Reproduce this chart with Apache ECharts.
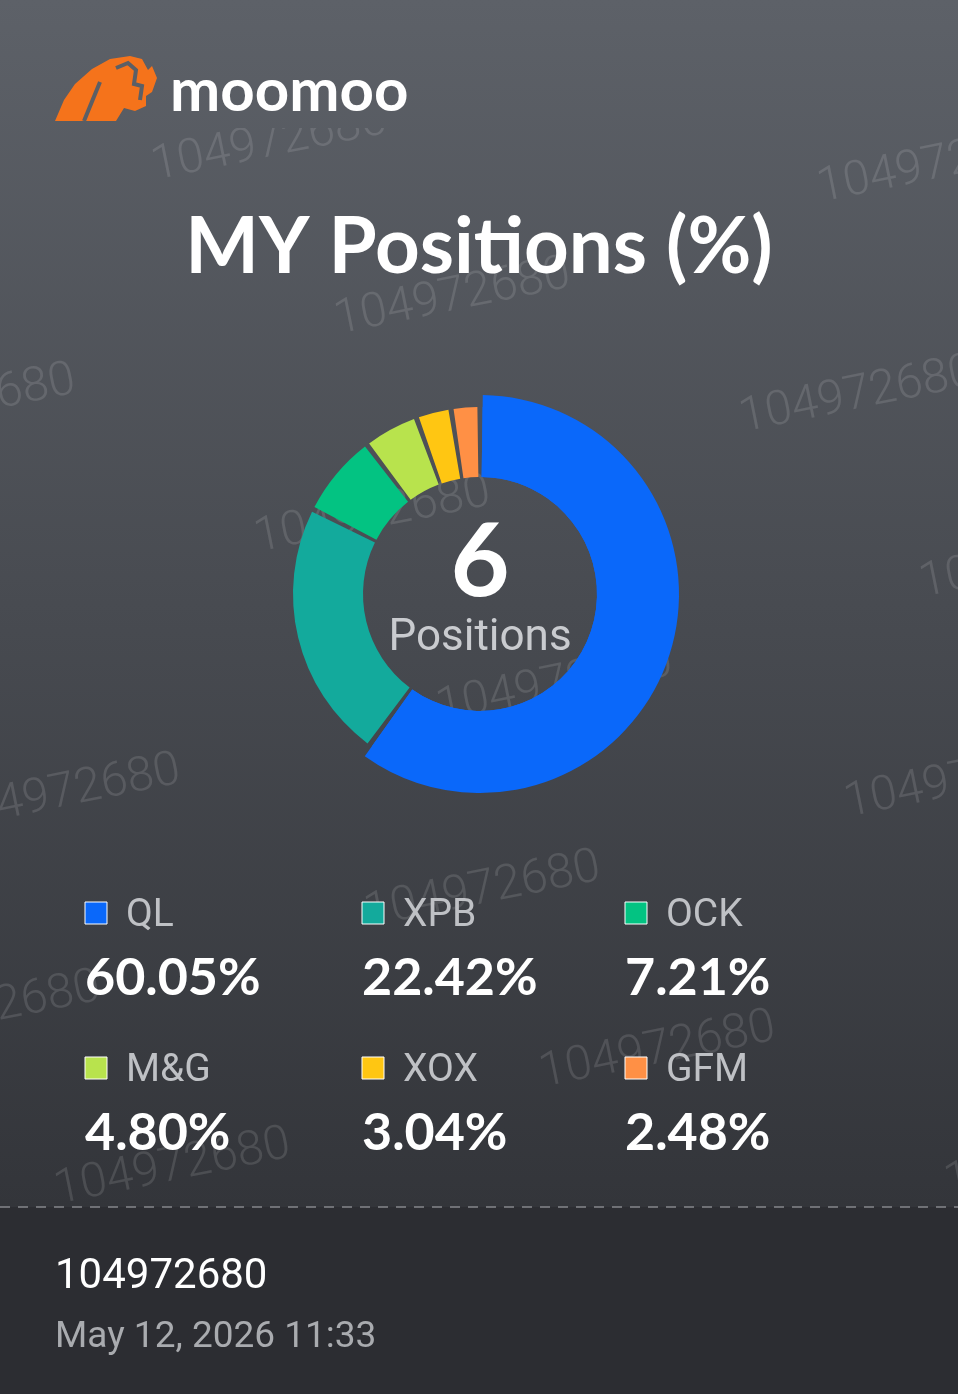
<!DOCTYPE html>
<html>
<head>
<meta charset="utf-8">
<script src="https://cdn.jsdelivr.net/npm/echarts@6/dist/echarts.min.js"></script>
<style>
  html, body { margin: 0; padding: 0; background: #2c2d32; }
  #chart { width: 958px; height: 1394px; }
</style>
</head>
<body>
<div id="chart"></div>
<script>
// position data
const names = ['QL', 'XPB', 'OCK', 'M&G', 'XOX', 'GFM']
const weights = [60.05, 22.42, 7.21, 4.80, 3.04, 2.48]
const colors = ['#0a68fa', '#13aa9c', '#03c382', '#b8e34d', '#ffc612', '#ff9045']

const accountId = '104972680'
const stamp = 'May 12, 2026 11:33'

const chart = echarts.init(document.getElementById('chart'))

// watermark spots (left edge, middle)
const marks = [
  [152, 168], [818, 190], [335, 322], [-160, 428], [740, 420], [255, 540],
  [920, 585], [-235, 640], [437, 710], [-55, 818], [845, 805], [365, 915],
  [-135, 1035], [540, 1075], [55, 1192], [945, 1185]
]

const bgFill = () => new echarts.graphic.LinearGradient(0, 0, 0, 1207, [
  { offset: 0, color: '#5d6168' },
  { offset: 1, color: '#33353a' }
], true)

const graphics = [
  {
    type: 'rect', z: -10, silent: true,
    shape: { x: 0, y: 0, width: 958, height: 1207 },
    style: { fill: bgFill() }
  },
  { type: 'rect', z: -10, silent: true, shape: { x: 0, y: 1207, width: 958, height: 187 }, style: { fill: '#2c2d32' } }
]

marks.forEach(([x, y]) => {
  graphics.push({
    type: 'text', z: -5, silent: true, x, y, rotation: 0.2,
    style: {
      text: accountId, fill: 'rgba(255,255,255,0.12)',
      font: '300 48px Roboto', textVerticalAlign: 'middle'
    }
  })
})

graphics.push(
  // logo box hides the watermark behind it
  { type: 'rect', z: -2, silent: true, shape: { x: 140, y: 30, width: 300, height: 98 }, style: { fill: bgFill() } },
  {
    type: 'polygon', z: 5, silent: true,
    shape: {
      points: [[55, 121], [64, 100], [75, 84], [92, 69], [110, 59], [130, 56], [142, 59], [148, 70], [152, 66],
        [157, 78], [152, 92], [146, 96], [146, 106], [135, 111], [124, 108], [116, 121]]
    },
    style: { fill: '#f5731b' }
  },
  {
    type: 'polyline', z: 6, silent: true,
    shape: { points: [[84, 121], [100, 82]] },
    style: { stroke: '#5b5f66', lineWidth: 4 }
  },
  {
    type: 'polyline', z: 6, silent: true,
    shape: { points: [[116, 68], [128, 63], [136, 70], [134, 84], [142, 86], [140, 100]] },
    style: { stroke: '#5b5f66', lineWidth: 4, fill: null }
  },
  {
    type: 'text', z: 5, silent: true, x: 170, y: 92,
    style: { text: 'moomoo', fill: '#ffffff', font: 'bold 60px Lato', textVerticalAlign: 'middle' }
  },
  // title
  {
    type: 'text', z: 5, silent: true, x: 479, y: 248,
    style: { text: 'MY Positions (%)', fill: '#ffffff', font: 'bold 78px Lato', textAlign: 'center', textVerticalAlign: 'middle' }
  },
  // center of donut
  {
    type: 'text', z: 5, silent: true, x: 480, y: 563,
    style: { text: String(names.length), fill: '#ffffff', font: 'bold 102px Lato', textAlign: 'center', textVerticalAlign: 'middle' }
  },
  {
    type: 'text', z: 5, silent: true, x: 480, y: 639,
    style: { text: 'Positions', fill: '#c9cbcf', font: '44px Roboto', textAlign: 'center', textVerticalAlign: 'middle' }
  },
  // divider
  {
    type: 'line', z: 5, silent: true,
    shape: { x1: 0, y1: 1207, x2: 958, y2: 1207 },
    style: { stroke: '#85878c', lineWidth: 1.5, lineDash: [10, 8] }
  },
  {
    type: 'text', z: 5, silent: true, x: 55, y: 1277,
    style: { text: accountId, fill: '#ffffff', font: '42px Roboto', textVerticalAlign: 'middle' }
  },
  {
    type: 'text', z: 5, silent: true, x: 55, y: 1338,
    style: { text: stamp, fill: '#a9abaf', font: '37px Roboto', textVerticalAlign: 'middle' }
  }
)

// legend grid: 3 columns, 2 rows
const colX = [85, 362, 625]
const rowY = [913, 1068]
names.forEach((n, i) => {
  const x = colX[i % 3]
  const y = rowY[Math.floor(i / 3)]
  graphics.push(
    {
      type: 'rect', z: 5, silent: true,
      shape: { x: x, y: y - 11, width: 22, height: 22 },
      style: { fill: colors[i], stroke: '#ffffff', lineWidth: 1 }
    },
    {
      type: 'text', z: 5, silent: true, x: x + 41, y: y + 3,
      style: { text: n, fill: '#bfc1c5', font: '39px Roboto', textVerticalAlign: 'middle' }
    },
    {
      type: 'text', z: 5, silent: true, x: x, y: y + 65,
      style: { text: weights[i].toFixed(2) + '%', fill: '#ffffff', font: 'bold 52px Lato', textVerticalAlign: 'middle' }
    }
  )
})

const option = {
  animation: false,
  graphic: graphics,
  series: [
    {
      type: 'pie',
      silent: true,
      center: [480, 594],
      radius: [117, 187],
      startAngle: 90,
      padAngle: 1.6,
      label: { show: false },
      labelLine: { show: false },
      data: names.map((n, i) => ({ name: n, value: weights[i], itemStyle: { color: colors[i] } }))
    },
    {
      // the top holding is drawn a bit wider
      type: 'pie',
      silent: true,
      center: [480, 594],
      radius: [117, 199],
      startAngle: 90,
      padAngle: 1.6,
      label: { show: false },
      labelLine: { show: false },
      data: names.map((n, i) => ({
        name: n, value: weights[i],
        itemStyle: { color: i === 0 ? colors[0] : 'rgba(0,0,0,0)' }
      }))
    }
  ]
}

chart.setOption(option)
</script>
</body>
</html>
